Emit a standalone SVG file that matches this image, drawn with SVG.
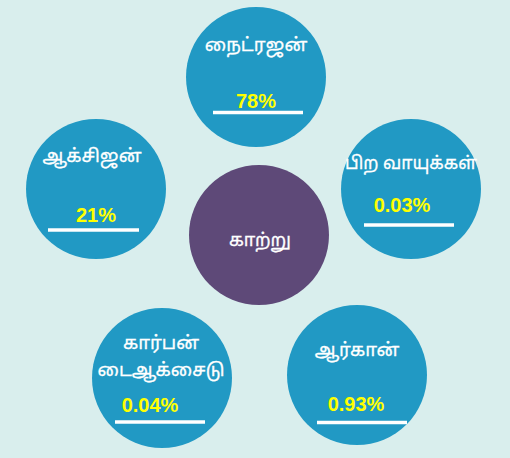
<svg xmlns="http://www.w3.org/2000/svg" width="510" height="458" viewBox="0 0 510 458">
<style>
.n{fill:#2199c4}
.c{fill:#5e4978}
.t{fill:#ffffff;font-family:"Noto Sans Tamil","Latha","Noto Sans","DejaVu Sans",sans-serif;font-size:18.5px;text-anchor:middle;stroke:#ffffff;stroke-width:0.3}
.p{fill:#ffff00;font-family:"Liberation Sans",Arial,sans-serif;font-weight:bold;font-size:20px;text-anchor:middle}
.u{stroke:#ffffff;stroke-width:3.5}
</style>
<rect width="510" height="458" fill="#d9eeed"/>
<g id="connectors"></g>
<g id="center">
<circle class="c" cx="259" cy="235" r="70"/>
<text class="t" x="260" y="246" style="font-size:18px">காற்று</text>
</g>
<g id="nitrogen">
<circle class="n" cx="256" cy="77" r="70"/>
<text class="t" x="256" y="51">நைட்ரஜன்</text>
<text class="p" x="256" y="108">78%</text>
<line class="u" x1="213" y1="112.5" x2="303" y2="112.5"/>
</g>
<g id="oxygen">
<circle class="n" cx="96" cy="189" r="70"/>
<text class="t" x="92" y="162">ஆக்சிஜன்</text>
<text class="p" x="96" y="222">21%</text>
<line class="u" x1="48" y1="230" x2="139" y2="230"/>
</g>
<g id="others">
<circle class="n" cx="411" cy="189" r="70"/>
<text class="t" x="411" y="169" style="font-size:17.5px">பிற வாயுக்கள்</text>
<text class="p" x="402" y="212">0.03%</text>
<line class="u" x1="364" y1="225" x2="454" y2="225"/>
</g>
<g id="co2">
<circle class="n" cx="162" cy="378" r="70"/>
<text class="t" x="161" y="349">கார்பன்</text>
<text class="t" x="161" y="376">டைஆக்சைடு</text>
<text class="p" x="150" y="412">0.04%</text>
<line class="u" x1="115" y1="422" x2="205" y2="422"/>
</g>
<g id="argon">
<circle class="n" cx="357" cy="375" r="70"/>
<text class="t" x="357" y="356">ஆர்கான்</text>
<text class="p" x="356" y="411">0.93%</text>
<line class="u" x1="317" y1="422.5" x2="407" y2="422.5"/>
</g>
</svg>
